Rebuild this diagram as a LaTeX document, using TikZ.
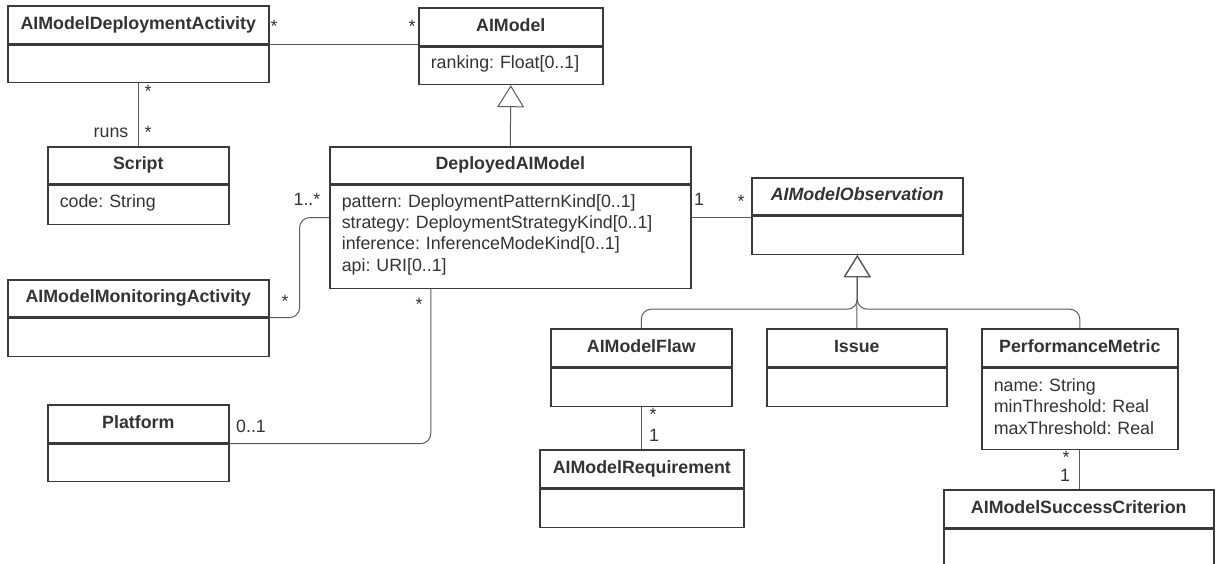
\documentclass[tikz,border=0pt]{standalone}
\usepackage{fontspec}
\setmainfont{Liberation Sans}
\usepackage{xcolor}
\usepackage{tikz}
\usetikzlibrary{positioning,arrows.meta}
\definecolor{umltext}{HTML}{333333}
\definecolor{umledge}{HTML}{3A3A3A}
\definecolor{umlwire}{HTML}{5A5A5A}
\frenchspacing

\begin{document}
\begin{tikzpicture}[x=1pt, y=-1pt,
        every node/.style={font=\fontsize{17.8}{21.3}\selectfont, text=umltext},
        head/.style={draw=umledge, line width=1.6pt, anchor=north west, inner sep=0pt,
            minimum height=38pt, text height=12.6pt, text depth=3.7pt,
            font=\fontsize{17.8}{21.3}\selectfont\bfseries},
        body/.style={draw=umledge, line width=1.6pt, inner xsep=12pt, inner ysep=0pt,
            minimum height=38pt, text height=8pt, align=left},
        mult/.style={anchor=base, inner sep=0pt},
        assoc/.style={draw=umlwire, line width=1pt},
        gen/.style={assoc, -{Triangle[open, length=22pt, width=27pt]}}]
        \useasboundingbox (0,0) rectangle (1219,563);
        \clip (0,0) rectangle (1219,563);

        % Class boxes: name compartment, then attribute compartment
        \node[head, minimum width=261pt] (adah) at (7,5) {AIModelDeploymentActivity};
        \node[body, text width=237pt, minimum height=37pt, below=0pt of adah] (adab) {};
        \node[head, minimum width=184pt] (aimh) at (418,7) {AIModel};
        \node[body, text width=160pt, minimum height=37pt, below=0pt of aimh] (aimb) {ranking: Float[0..1]};
        \node[head, minimum width=181pt, minimum height=37pt] (scrh) at (47,146) {Script};
        \node[body, text width=157pt, minimum height=39pt, below=0pt of scrh] (scrb) {code: String};
        \node[head, minimum width=361pt, minimum height=37pt] (damh) at (329,146) {DeployedAIModel};
        \node[body, text width=337pt, minimum height=103pt, below=0pt of damh] (damb) {pattern: DeploymentPatternKind[0..1]\\strategy: DeploymentStrategyKind[0..1]\\inference: InferenceModeKind[0..1]\\api: URI[0..1]};
        \node[head, minimum width=211pt, minimum height=37pt] (aimoh) at (751,177) {\itshape AIModelObservation};
        \node[body, text width=187pt, below=0pt of aimoh] (aimob) {};
        \node[head, minimum width=261pt, minimum height=37pt] (ammah) at (7,279) {AIModelMonitoringActivity};
        \node[body, text width=237pt, below=0pt of ammah] (ammab) {};
        \node[head, minimum width=181pt] (plath) at (47,404) {Platform};
        \node[body, text width=157pt, minimum height=37pt, below=0pt of plath] (platb) {};
        \node[head, minimum width=181pt] (flawh) at (550,328) {AIModelFlaw};
        \node[body, text width=157pt, below=0pt of flawh] (flawb) {};
        \node[head, minimum width=180pt] (issueh) at (766,328) {Issue};
        \node[body, text width=156pt, below=0pt of issueh] (issueb) {};
        \node[head, minimum width=196pt] (pmh) at (981,328) {PerformanceMetric};
        \node[body, text width=172pt, minimum height=81pt, below=0pt of pmh] (pmb) {name: String\\minThreshold: Real\\maxThreshold: Real};
        \node[head, minimum width=204pt] (reqh) at (539,449) {AIModelRequirement};
        \node[body, text width=180pt, below=0pt of reqh] (reqb) {};
        \node[head, minimum width=270pt] (asch) at (943,489) {AIModelSuccessCriterion};
        \node[body, text width=246pt, minimum height=80pt, below=0pt of asch] (ascb) {};

        % Associations and generalizations
        \coordinate (damport) at ([yshift=-33pt]damb.north west);
        \coordinate (obsport) at ([yshift=-33pt]damb.north east);
        \coordinate (obsjoin) at ([yshift=-54pt]aimob.south);
        \draw[assoc] (adah.south east) -- (adah.south east -| aimh.west);
        \draw[assoc] (adab.south) -- (scrh.north);
        \draw[gen] (damh.north) -- (aimb.south);
        \draw[assoc, rounded corners=10pt] (damport) -| ([xshift=30pt]ammah.south east) -- (ammah.south east);
        \draw[assoc, rounded corners=10pt] ([xshift=-79.5pt]damb.south) |- (platb.north east);
        \draw[assoc] (obsport) -- (obsport -| aimob.west);
        \draw[gen, rounded corners=10pt] (flawh.north) |- (obsjoin) -- (aimob.south);
        \draw[gen] (issueh.north) -- (aimob.south);
        \draw[gen, rounded corners=10pt] (pmh.north) |- (obsjoin) -- (aimob.south);
        \draw[assoc] (flawb.south) -- (flawb.south |- reqh.north);
        \draw[assoc] (pmb.south) -- (pmb.south |- asch.north);

        % Multiplicities and role names
        \node[mult] (m1) at (274,32) {*};
        \node[mult] (m2) at (412,32) {*};
        \node[mult] (m3) at (148,97) {*};
        \node[mult] (m4) at (148,138) {*};
        \node[mult] (runs) at (111,137) {runs};
        \node[mult] (m5) at (307,205) {1..*};
        \node[mult] (m6) at (285,307) {*};
        \node[mult] (m7) at (419,310) {*};
        \node[mult] (m8) at (251,432) {0..1};
        \node[mult] (m9) at (699,205) {1};
        \node[mult] (m10) at (741,207) {*};
        \node[mult] (m11) at (653,420) {*};
        \node[mult] (m12) at (654,441) {1};
        \node[mult] (m13) at (1066,463) {*};
        \node[mult] (m14) at (1065,481) {1};
    \end{tikzpicture}
\end{document}
